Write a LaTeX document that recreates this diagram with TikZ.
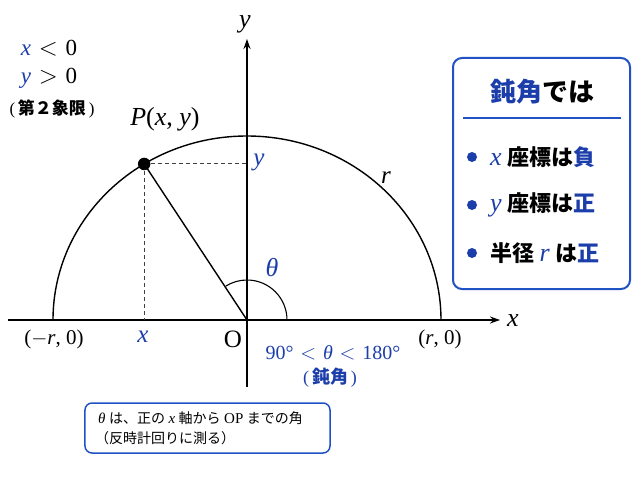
\documentclass[tikz,border=0pt]{standalone}
\usepackage{fontspec}
\setmainfont{Liberation Serif}
\usetikzlibrary{arrows.meta}
\newfontfamily\jp{Noto Sans CJK JP}
\definecolor{jblue}{RGB}{28,62,170}
\definecolor{bblue}{RGB}{32,82,196}
\newcommand\fsz[1]{\fontsize{#1}{#1}\selectfont}
\newcommand\mi[1]{\textit{#1}}
\newcommand\bi[1]{\textcolor{jblue}{\textit{#1}}}
\newcommand\rsp{\hspace{0.34em}}
\begin{document}
\begin{tikzpicture}[x=1pt,y=1pt,
  axis/.style={line width=1.4pt,-{Stealth[length=10pt,width=7pt]}},
  curve/.style={line width=1.4pt},
  guide/.style={line width=1pt,dash pattern=on 4pt off 3pt,draw=black!75},
  bluebox/.style={draw=bblue,line width=2pt,rounded corners=9pt,fill=white},
  lbl/.style={inner sep=0pt},
  bullet/.style={circle,fill=jblue,inner sep=0pt,minimum size=10pt},
]
\useasboundingbox (-247,-160) rectangle (393,320);
\fill[white] (-247,-160) rectangle (393,320);
% axes
\coordinate (O) at (0,0);
\coordinate (xs) at (-239,0);
\coordinate (xe) at (253,0);
\coordinate (ys) at (0,-67);
\coordinate (ye) at (0,281);
\draw[axis] (xs) -- (xe);
\draw[axis] (ys) -- (ye);
\node[lbl] (xl) at (266,-1) {\fsz{26}\mi{x}};
\node[lbl] (yl) at (-2,296) {\fsz{26}\mi{y}};
% semicircle
\coordinate (L) at (-194,0);
\draw[curve] (L) arc[start angle=180,end angle=0,x radius=194,y radius=184];
\coordinate (P) at (122:194pt and 184pt);
\coordinate (Px) at (P |- O);
\coordinate (Py) at (P -| O);
\draw[guide] (P) -- (Px);
\draw[guide] (P) -- (Py);
\draw[curve] (P) -- (O);
\node[circle,fill=black,inner sep=0pt,minimum size=12.5pt] (Pd) at (P) {};
% angle
\coordinate (A0) at (40,0);
\draw[line width=1.1pt] (A0) arc[start angle=0,end angle=122,radius=40];
\node[lbl,text=jblue] (th) at (25,52) {\fsz{26}\mi{θ}};
% labels
\node[lbl] (Pl) at (-82,201) {\fsz{26}\mi{P}(\mi{x}, \mi{y})};
\node[lbl,text=jblue] (yv) at (12,158) {\fsz{25}\mi{y}};
\node[lbl,text=jblue] (xv) at (-104,-17) {\fsz{25}\mi{x}};
\node[lbl] (rl) at (139,142) {\fsz{25}\mi{r}};
\node[lbl] (Ol) at (-14,-19) {\fsz{25}O};
\node[lbl] (ml) at (-193,-19) {\fsz{21}($-$\mi{r}, 0)};
\node[lbl] (pl) at (193,-19) {\fsz{21}(\mi{r}, 0)};
\node[lbl,text=jblue] (rng) at (86,-33) {\fsz{20}90°\rsp$<$\rsp\mi{θ}\rsp$<$\rsp180°};
\node[lbl,text=jblue] (dn) at (83,-58) {\fsz{18}(\,{\jp\bfseries 鈍角}\,)};
% top-left
\node[lbl] (c1) at (-198,272) {\fsz{23}\bi{x}\rsp$<$\rsp0};
\node[lbl] (c2) at (-198,242) {\fsz{23}\bi{y}\rsp$>$\rsp0};
\node[lbl] (c3) at (-195,211) {\fsz{17}(\,{\jp\bfseries 第２象限}\,)};
% right box
\node[bluebox,minimum width=177pt,minimum height=231pt] (rb) at (294.5,146.5) {};
\node[lbl] (tt) at (295,228) {\fsz{26}\jp\bfseries\textcolor{jblue}{鈍角}では};
\coordinate (s1) at (216,202);
\coordinate (s2) at (374,202);
\draw[draw=bblue,line width=1.3pt] (s1) -- (s2);
\node[bullet] (b1) at (225,163) {};
\node[bullet] (b2) at (225,115) {};
\node[bullet] (b3) at (225,67) {};
\node[lbl,anchor=west] (t1) at (243,163) {\fsz{22}{\fsz{26}\bi{x}}\ {\jp\bfseries 座標は\textcolor{jblue}{負}}};
\node[lbl,anchor=west] (t2) at (243,115) {\fsz{22}{\fsz{26}\bi{y}}\ {\jp\bfseries 座標は\textcolor{jblue}{正}}};
\node[lbl,anchor=west] (t3) at (243,67) {\fsz{22}{\jp\bfseries 半径}\ {\fsz{26}\bi{r}}\ {\jp\bfseries は\textcolor{jblue}{正}}};
% bottom box
\node[draw=bblue,line width=1.5pt,rounded corners=7pt,minimum width=245pt,minimum height=50pt,fill=white] (bb) at (-39.5,-108) {};
\node[lbl,anchor=west] (n1) at (-149,-98) {\fsz{14}{\fsz{15}\mi{θ}}\ {\jp は、正の}\ {\fsz{15}\mi{x}}\ {\jp 軸から}\ {\fsz{15}OP}\ {\jp までの角}};
\node[lbl,anchor=west] (n2) at (-152,-118) {\fsz{14}\jp （反時計回りに測る）};
\end{tikzpicture}
\end{document}
